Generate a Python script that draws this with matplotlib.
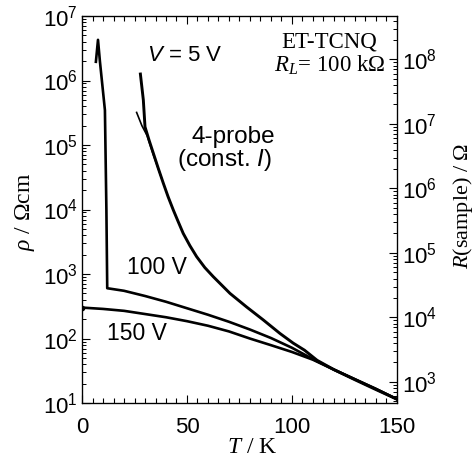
import numpy as np
import matplotlib
matplotlib.use('Agg')
from matplotlib import pyplot as plt
from matplotlib import ticker

plt.rcParams['font.family'] = ['Liberation Sans', 'DejaVu Sans']
plt.rcParams['mathtext.fontset'] = 'custom'
plt.rcParams['mathtext.rm'] = 'Liberation Serif'
plt.rcParams['mathtext.it'] = 'Liberation Serif:italic'
plt.rcParams['mathtext.sf'] = 'Liberation Sans:italic'

# 5 V spike followed by the 100 V branch (T in K, rho in Ohm cm)
t_100 = [6.6, 7.6, 8.5, 10.9, 11.6, 12.0, 20, 30, 40, 50, 60, 70, 80, 90, 100, 110, 120, 130, 140, 150]
rho_100 = [1.95e6, 4.27e6, 2.0e6, 3.47e5, 1.0e4, 603, 550, 457, 372, 295, 234, 182, 138, 102, 72, 48, 33, 23.4, 16.6, 11.5]

# 150 V
t_150 = [0, 10, 20, 30, 40, 50, 60, 70, 80, 90, 100, 110, 120, 130, 140, 150]
rho_150 = [302, 288, 269, 240, 214, 186, 158, 129, 100, 79, 62, 47, 33, 23.4, 16.6, 11.5]

# 4-probe (const. I)
t_4p = [27.8, 29.2, 30.0, 32, 34, 36.3, 38.7, 41, 43.5, 45.8, 48.2, 51.4, 54.6, 58.5, 62.5, 66.5, 70.5,
        78.4, 86.3, 94.3, 100.6, 106, 112, 120, 130, 140, 150]
rho_4p = [1.26e6, 5.0e5, 1.91e5, 1.17e5, 7.4e4, 4.37e4, 2.57e4, 1.58e4, 9.8e3, 6.5e3, 4.27e3, 2.75e3, 1.86e3,
          1.26e3, 912, 676, 501, 309, 195, 120, 85, 66, 46, 33, 23, 16.2, 11.5]
t_4p_b = [26.0, 28.5, 31.0, 34.0, 38.0]
rho_4p_b = [3.2e5, 2.0e5, 1.4e5, 7.0e4, 3.0e4]

t_ticks = [0, 50, 100, 150]
rho_ticks = [1e1, 1e2, 1e3, 1e4, 1e5, 1e6, 1e7]
r_ticks = [1e3, 1e4, 1e5, 1e6, 1e7, 1e8]
r_factor = 47  # R(sample) = factor * rho

fig = plt.figure(figsize=(4.77, 4.57), dpi=100)
ax = fig.add_axes([0.172, 0.118, 0.66, 0.847])

ax.plot(t_100, rho_100, color='black', lw=1.9)
ax.plot(t_150, rho_150, color='black', lw=1.9)
ax.plot(t_4p, rho_4p, color='black', lw=2.1)
ax.plot(t_4p_b, rho_4p_b, color='black', lw=1.2)
ax.plot([t_150[0]], [rho_150[0]], 'o', color='black', ms=3)

ax.set_yscale('log')
ax.set_xlim(0, 150)
ax.set_ylim(10, 1e7)
ax.xaxis.set_major_locator(ticker.FixedLocator(t_ticks))
ax.xaxis.set_minor_locator(ticker.MultipleLocator(5))
ax.yaxis.set_major_locator(ticker.FixedLocator(rho_ticks))

sup = ticker.FuncFormatter(lambda v, p: r'$\mathregular{10^{%d}}$' % round(np.log10(v)))
ax.yaxis.set_major_formatter(sup)

ax.tick_params(axis='x', which='both', direction='in', top=True, labelsize=16, pad=10)
ax.tick_params(axis='x', which='major', length=6, width=0.8)
ax.tick_params(axis='x', which='minor', length=3.5, width=0.8)
ax.tick_params(axis='y', which='both', direction='in', right=False, labelsize=16, pad=3)
ax.tick_params(axis='y', which='major', length=6, width=0.8)
ax.tick_params(axis='y', which='minor', length=3, width=0.7)
for s in ax.spines.values():
    s.set_linewidth(0.9)

ax2 = ax.twinx()
ax2.set_yscale('log')
ax2.set_ylim(10 * r_factor, 1e7 * r_factor)
ax2.yaxis.set_major_locator(ticker.FixedLocator(r_ticks))
ax2.yaxis.set_major_formatter(sup)
ax2.tick_params(axis='y', which='both', direction='in', labelsize=16, pad=4)
ax2.tick_params(axis='y', which='major', length=6, width=0.8)
ax2.tick_params(axis='y', which='minor', length=3, width=0.7)

ax.text(0.206, 0.899, r'$\mathsf{V}$ = 5 V', transform=ax.transAxes, fontsize=16, va='center', ha='left')
ax.text(0.479, 0.687, '4-probe', transform=ax.transAxes, fontsize=17.5, va='center', ha='center')
ax.text(0.451, 0.627, r'(const. $\mathsf{I}$)', transform=ax.transAxes, fontsize=17.5, va='center', ha='center')
ax.text(0.238, 0.351, '100 V', transform=ax.transAxes, fontsize=16.5, va='center', ha='center')
ax.text(0.175, 0.181, '150 V', transform=ax.transAxes, fontsize=16.5, va='center', ha='center')
ax.text(0.937, 0.933, 'ET-TCNQ', transform=ax.transAxes, fontsize=16.5, va='center', ha='right',
        family='Liberation Serif')
ax.text(0.962, 0.873, r'$R_L$= 100 kΩ', transform=ax.transAxes, fontsize=16.5, va='center', ha='right',
        family='Liberation Serif')

fig.text(0.528, 0.021, r'$T$ / K', fontsize=17, ha='center', va='center', family='Liberation Serif')
fig.text(0.052, 0.536, r'$\rho$ / Ωcm', fontsize=17, ha='center', va='center', rotation=90,
         family='Liberation Serif')
fig.text(0.97, 0.549, r'$R$(sample) / Ω', fontsize=16, ha='center', va='center', rotation=90,
         family='Liberation Serif')

fig.savefig('out.png', dpi=100)
